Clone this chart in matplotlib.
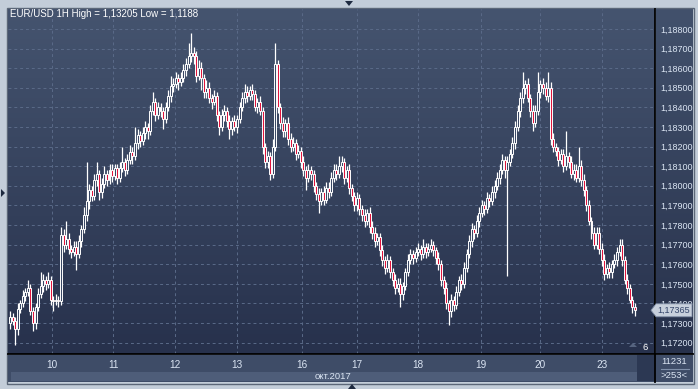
import matplotlib.pyplot as plt
import numpy as np
from matplotlib.patches import Rectangle, Polygon
from matplotlib.colors import LinearSegmentedColormap

# EUR/USD hourly closes (one row = 10 bars)
close = np.array([
    1.1733, 1.1731, 1.1727, 1.1737, 1.1740, 1.1744, 1.1746, 1.1748, 1.1736, 1.1730,
    1.1738, 1.1745, 1.1749, 1.1752, 1.1750, 1.1752, 1.1742, 1.1741, 1.1742, 1.1741,
    1.1775, 1.1770, 1.1773, 1.1768, 1.1766, 1.1769, 1.1765, 1.1772, 1.1778, 1.1785,
    1.1792, 1.1798, 1.1795, 1.1803, 1.1806, 1.1797, 1.1801, 1.1806, 1.1803, 1.1808,
    1.1805, 1.1809, 1.1804, 1.1809, 1.1812, 1.1808, 1.1813, 1.1817, 1.1815, 1.1822,
    1.1826, 1.1823, 1.1827, 1.1830, 1.1828, 1.1838, 1.1843, 1.1836, 1.1840, 1.1838,
    1.1834, 1.1840, 1.1846, 1.1851, 1.1852, 1.1855, 1.1853, 1.1855, 1.1859, 1.1862,
    1.1866, 1.1868, 1.1866, 1.1856, 1.1860, 1.1855, 1.1848, 1.1850, 1.1845, 1.1843,
    1.1846, 1.1836, 1.1830, 1.1836, 1.1838, 1.1833, 1.1829, 1.1833, 1.1830, 1.1834,
    1.1840, 1.1845, 1.1848, 1.1846, 1.1849, 1.1847, 1.1840, 1.1843, 1.1838, 1.1820,
    1.1812, 1.1815, 1.1806, 1.1820, 1.1862, 1.1840, 1.1832, 1.1828, 1.1832, 1.1824,
    1.1820, 1.1822, 1.1816, 1.1818, 1.1812, 1.1808, 1.1804, 1.1808, 1.1806, 1.1800,
    1.1796, 1.1792, 1.1797, 1.1793, 1.1799, 1.1797, 1.1804, 1.1808, 1.1806, 1.1810,
    1.1812, 1.1804, 1.1808, 1.1799, 1.1795, 1.1790, 1.1794, 1.1788, 1.1785, 1.1782,
    1.1786, 1.1779, 1.1776, 1.1772, 1.1774, 1.1767, 1.1762, 1.1758, 1.1762, 1.1756,
    1.1752, 1.1748, 1.1750, 1.1745, 1.1749, 1.1756, 1.1762, 1.1765, 1.1763, 1.1766,
    1.1768, 1.1765, 1.1769, 1.1766, 1.1768, 1.1770, 1.1767, 1.1763, 1.1760, 1.1752,
    1.1748, 1.1740, 1.1736, 1.1742, 1.1739, 1.1746, 1.1752, 1.1750, 1.1758, 1.1765,
    1.1772, 1.1778, 1.1776, 1.1782, 1.1786, 1.1790, 1.1788, 1.1794, 1.1792, 1.1797,
    1.1800, 1.1804, 1.1808, 1.1813, 1.1808, 1.1812, 1.1816, 1.1822, 1.1830, 1.1838,
    1.1845, 1.1850, 1.1852, 1.1845, 1.1838, 1.1832, 1.1838, 1.1848, 1.1852, 1.1850,
    1.1846, 1.1850, 1.1824, 1.1820, 1.1818, 1.1813, 1.1816, 1.1810, 1.1815, 1.1812,
    1.1806, 1.1808, 1.1804, 1.1810, 1.1803, 1.1798, 1.1790, 1.1782, 1.1776, 1.1770,
    1.1776, 1.1768, 1.1762, 1.1755, 1.1758, 1.1756, 1.1760, 1.1762, 1.1766, 1.1770,
    1.1762, 1.1752, 1.1748, 1.1742, 1.1738, 1.17365,
])
first_open = 1.1730

# wick lengths above / below the body, in pips
wick_up = np.array([
    3, 2, 2, 3, 2, 3, 2, 4, 2, 2,
    2, 3, 7, 3, 2, 4, 2, 2, 3, 2,
    4, 3, 9, 3, 2, 3, 3, 3, 2, 4,
    20, 3, 2, 3, 6, 2, 3, 4, 2, 3,
    3, 2, 2, 3, 8, 2, 3, 4, 3, 8,
    3, 2, 3, 3, 2, 3, 5, 2, 3, 2,
    2, 3, 3, 5, 3, 3, 2, 3, 3, 3,
    7, 10, 3, 3, 4, 3, 2, 4, 3, 2,
    3, 2, 2, 3, 3, 2, 3, 2, 3, 2,
    3, 3, 4, 3, 2, 3, 2, 2, 3, 2,
    2, 3, 2, 4, 11, 2, 2, 3, 2, 3,
    3, 3, 2, 3, 2, 3, 2, 3, 2, 2,
    2, 3, 2, 3, 3, 3, 3, 3, 3, 5,
    3, 2, 2, 3, 2, 2, 3, 2, 2, 3,
    2, 3, 3, 3, 2, 2, 3, 2, 3, 2,
    2, 3, 3, 3, 2, 2, 3, 3, 2, 3,
    3, 2, 4, 2, 3, 3, 2, 2, 3, 2,
    2, 3, 2, 3, 2, 3, 2, 3, 3, 3,
    3, 3, 2, 3, 3, 3, 2, 3, 2, 3,
    3, 3, 3, 3, 2, 3, 3, 3, 3, 3,
    3, 8, 2, 3, 2, 3, 3, 10, 2, 3,
    3, 8, 3, 3, 2, 2, 3, 3, 13, 2,
    3, 3, 3, 10, 3, 3, 2, 3, 2, 3,
    3, 3, 3, 3, 2, 3, 2, 3, 3, 3,
    3, 2, 3, 2, 2, 2,
])
wick_dn = np.array([
    3, 2, 8, 3, 2, 2, 3, 2, 2, 4,
    3, 2, 2, 3, 3, 2, 3, 5, 2, 3,
    2, 4, 2, 3, 3, 2, 8, 2, 3, 2,
    3, 4, 3, 2, 3, 4, 3, 2, 3, 2,
    3, 2, 3, 2, 2, 3, 2, 2, 4, 2,
    3, 3, 2, 3, 4, 2, 2, 3, 2, 3,
    5, 2, 2, 3, 3, 2, 4, 2, 2, 3,
    2, 3, 4, 3, 2, 6, 3, 3, 3, 4,
    2, 3, 4, 2, 3, 3, 5, 3, 2, 3,
    2, 2, 3, 3, 2, 3, 2, 3, 2, 4,
    3, 3, 3, 2, 2, 3, 3, 3, 3, 3,
    3, 2, 3, 2, 3, 3, 6, 2, 3, 3,
    3, 6, 2, 3, 2, 3, 2, 2, 3, 2,
    3, 3, 2, 3, 3, 3, 3, 3, 3, 3,
    2, 3, 3, 3, 2, 3, 3, 3, 2, 3,
    3, 3, 2, 7, 3, 2, 2, 2, 3, 2,
    2, 3, 2, 3, 2, 2, 3, 3, 3, 3,
    3, 3, 7, 3, 3, 2, 2, 3, 2, 2,
    2, 3, 3, 2, 3, 2, 3, 2, 3, 2,
    3, 2, 3, 2, 4, 54, 2, 2, 3, 2,
    3, 3, 3, 2, 3, 4, 2, 2, 3, 3,
    2, 3, 3, 3, 3, 3, 2, 3, 2, 3,
    2, 3, 2, 2, 3, 3, 3, 2, 3, 2,
    2, 3, 3, 3, 2, 3, 3, 2, 3, 2,
    3, 2, 3, 2, 3, 3,
])

day_labels = ['10', '11', '12', '13', '16', '17', '18', '19', '20', '23']
day_pos = [16.5, 40.5, 64.5, 89, 114.5, 136, 160, 184.5, 208, 232]
price_ticks = [1.172, 1.173, 1.174, 1.175, 1.176, 1.177, 1.178, 1.179,
               1.180, 1.181, 1.182, 1.183, 1.184, 1.185, 1.186, 1.187, 1.188]
last_price = 1.17365

open_ = np.concatenate([[first_open], close[:-1]])
high = np.maximum(open_, close) + wick_up * 1e-4
low = np.minimum(open_, close) - wick_dn * 1e-4

W, H = 698, 389
txt = '#dbe5f3'
font = 'Liberation Sans'

fig = plt.figure(figsize=(W / 100, H / 100), dpi=100)
fig.patch.set_facecolor('#c3cdd9')

# background panels in pixel coordinates
bg = fig.add_axes([0, 0, 1, 1])
bg.axis('off')
grad = np.linspace(0, 1, 256).reshape(-1, 1)
panel_cmap = LinearSegmentedColormap.from_list('p', ['#42516c', '#27314b'])
bg.imshow(grad, extent=[656, 693, 354, 9], cmap=panel_cmap, aspect='auto')
bg.add_patch(Rectangle((7, 8), 687, 376, facecolor='none', edgecolor='#5c6778', lw=1))
bg.add_patch(Rectangle((8, 355), 685, 27, facecolor='#3e4c67', edgecolor='none'))
bg.add_patch(Rectangle((11, 372), 626, 9, facecolor='#4e5d79', edgecolor='none'))
bg.add_patch(Rectangle((637, 355), 18, 26, facecolor='#2c3853', edgecolor='none'))
bg.add_patch(Polygon([(345, 1), (353, 1), (349, 6)], facecolor='#1e2a40'))
bg.add_patch(Polygon([(1, 189), (1, 197), (5, 193)], facecolor='#1e2a40'))
bg.add_patch(Polygon([(348, 389), (356, 389), (352, 384)], facecolor='#1e2a40'))
bg.set_xlim(0, W)
bg.set_ylim(H, 0)

# main candle chart
ax = fig.add_axes([8 / W, 1 - 354 / H, 647 / W, 345 / H])
xmin, xmax = -0.8, 252.9
ymin, ymax = 1.17142, 1.18902
chart_cmap = LinearSegmentedColormap.from_list('c', ['#45546f', '#27314c'])
ax.imshow(grad, extent=[xmin, xmax, ymin, ymax], cmap=chart_cmap, aspect='auto', zorder=0)

x = np.arange(len(close))
rising = close >= open_
ax.vlines(x, low, high, color='white', lw=0.9, zorder=2)
ax.bar(x, np.abs(close - open_), bottom=np.minimum(open_, close), width=0.78,
       color=np.where(rising, '#3a4865', '#e0143c'), edgecolor='white', linewidth=0.7, zorder=3)

ax.set_xlim(xmin, xmax)
ax.set_ylim(ymin, ymax)
ax.set_yticks(price_ticks)
ax.set_yticklabels([f'{p:.5f}'.replace('.', ',') for p in price_ticks])
ax.set_xticks(day_pos)
ax.set_xticklabels(day_labels)
ax.yaxis.tick_right()
ax.tick_params(axis='y', length=0, pad=3.5, labelsize=6.5, labelcolor=txt)
ax.tick_params(axis='x', length=0, pad=4, labelsize=7.2, labelcolor=txt)
for lab in ax.get_xticklabels() + ax.get_yticklabels():
    lab.set_fontfamily(font)
ax.grid(True, color='#5a6a88', linestyle=(0, (3, 3)), linewidth=0.7, zorder=1)
for s in ['top', 'left']:
    ax.spines[s].set_visible(False)
for s in ['right', 'bottom']:
    ax.spines[s].set_color('black')
    ax.spines[s].set_linewidth(1.3)

# foreground overlay
fg = fig.add_axes([0, 0, 1, 1], zorder=5)
fg.patch.set_alpha(0)
fg.axis('off')
fg.set_xlim(0, W)
fg.set_ylim(H, 0)
fg.plot([655, 693], [354, 354], color='black', lw=1.3)
fg.plot([655, 655], [354, 382], color='black', lw=1.3)
fg.plot([661, 689], [369, 369], color='#8090aa', lw=0.8)
fg.add_patch(Polygon([(629, 347), (637, 347), (633, 343)], facecolor='#56647f'))

y_last = 9 + (ymax - last_price) / (ymax - ymin) * 345
fg.add_patch(Polygon([(651, y_last), (656, y_last - 6.5), (692, y_last - 6.5),
                      (692, y_last + 6.5), (656, y_last + 6.5)],
                     facecolor='#c8d0dc', edgecolor='#7d8ba3', lw=0.6))
fg.text(674, y_last, '1,17365', color='#34456a', fontsize=6.5, family=font,
        ha='center', va='center')

fg.text(10, 14, 'EUR/USD 1H High = 1,13205 Low = 1,1188', color='white',
        fontsize=7, family=font, va='center')
fg.text(645, 347, '6', color='white', fontsize=6.8, family=font, ha='center', va='center')
fg.text(333, 376.5, 'окт.2017', color=txt, fontsize=6.8, family=font, ha='center', va='center')
fg.text(674, 362, '11231', color=txt, fontsize=6.8, family=font, ha='center', va='center')
fg.text(674, 376, '>253<', color=txt, fontsize=6.8, family=font, ha='center', va='center')

fig.savefig('out.png', dpi=100, facecolor=fig.get_facecolor())
